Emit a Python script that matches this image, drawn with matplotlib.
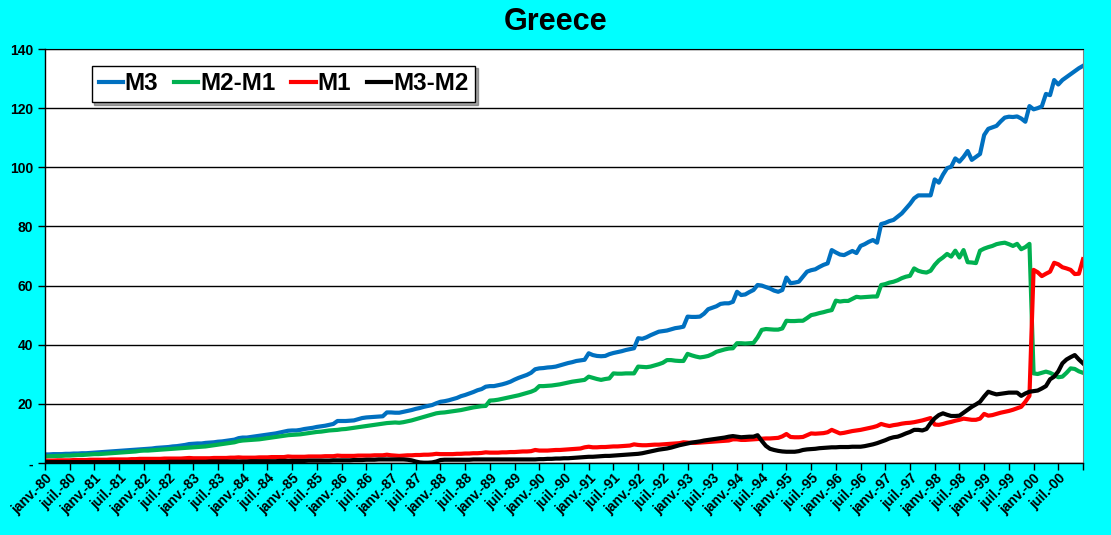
import matplotlib
matplotlib.use("Agg")
import matplotlib.pyplot as plt
import numpy as np

plt.rcParams['font.family'] = ['Liberation Sans', 'DejaVu Sans']
plt.rcParams['font.weight'] = 'bold'

# mois : janv.-80 ... janv.-01
mois_noms = ["janv.", "juil."]
annees = list(range(1980, 2001))

m3 = [
    2.9, 2.9, 3.0, 3.0, 3.0, 3.1, 3.1, 3.2, 3.2, 3.3, 3.3, 3.4,
    3.5, 3.6, 3.7, 3.8, 3.9, 4.0, 4.1, 4.2, 4.3, 4.4, 4.5, 4.6,
    4.7, 4.8, 4.9, 5.1, 5.2, 5.3, 5.4, 5.6, 5.7, 5.9, 6.1, 6.4,
    6.5, 6.6, 6.6, 6.8, 6.9, 7.0, 7.2, 7.3, 7.5, 7.7, 7.9, 8.4,
    8.6, 8.6, 8.8, 9.0, 9.2, 9.4, 9.6, 9.8, 10.0, 10.3, 10.6, 10.9,
    11.0, 11.0, 11.2, 11.5, 11.7, 11.9, 12.2, 12.4, 12.6, 12.9, 13.2, 14.2,
    14.2, 14.2, 14.3, 14.4, 14.8, 15.2, 15.4, 15.5, 15.6, 15.7, 15.8, 17.1,
    17.1, 17.0, 17.0, 17.3, 17.6, 17.9, 18.3, 18.6, 19.0, 19.3, 19.6, 20.2,
    20.7, 20.9, 21.2, 21.6, 22.0, 22.6, 23.0, 23.5, 24.0, 24.6, 25.0, 25.8,
    26.0, 26.0, 26.3, 26.6, 27.0, 27.5, 28.2, 28.8, 29.3, 29.8, 30.5, 31.7,
    32.0, 32.1, 32.3, 32.4, 32.6, 33.0, 33.4, 33.8, 34.1, 34.5, 34.7, 34.9,
    37.1, 36.5, 36.2, 36.1, 36.2, 36.8, 37.2, 37.5, 37.8, 38.2, 38.5, 38.8,
    42.2, 42.0, 42.5, 43.2, 43.8, 44.4, 44.6, 44.8, 45.2, 45.6, 45.8, 46.1,
    49.5, 49.4, 49.4, 49.5, 50.5, 52.0, 52.5, 53.0, 53.8, 54.0, 54.0, 54.5,
    57.9, 56.8, 57.0, 57.8, 58.5, 60.2, 60.0, 59.5, 59.0, 58.3, 57.9, 58.5,
    62.7, 60.8, 61.0, 61.3, 63.0, 64.7, 65.2, 65.5, 66.3, 67.0, 67.5, 72.0,
    71.2, 70.5, 70.3, 71.0, 71.7, 71.0, 73.4, 74.0, 74.8, 75.4, 74.5, 80.8,
    81.2, 81.8, 82.2, 83.3, 84.4, 86.0, 87.6, 89.5, 90.5, 90.5, 90.5, 90.5,
    95.9, 94.8, 97.5, 99.7, 100.2, 103.0, 101.9, 103.5, 105.5, 102.5, 103.5, 104.5,
    110.9, 113.0, 113.5, 114.0, 115.5, 116.8, 117.1, 117.0, 117.2, 116.5, 115.4, 120.7,
    119.6, 120.0, 120.6, 124.8, 124.4, 129.5, 128.0, 129.5, 130.5, 131.5, 132.5, 133.5,
    134.3,
]

m2_m1 = [
    2.2, 2.3, 2.3, 2.4, 2.4, 2.5, 2.5, 2.6, 2.7, 2.7, 2.8, 2.9,
    3.0, 3.0, 3.1, 3.2, 3.3, 3.4, 3.5, 3.6, 3.7, 3.8, 3.9, 4.1,
    4.2, 4.2, 4.3, 4.4, 4.5, 4.6, 4.7, 4.8, 4.9, 5.0, 5.1, 5.2,
    5.3, 5.4, 5.5, 5.6, 5.8, 6.0, 6.2, 6.4, 6.6, 6.8, 7.0, 7.4,
    7.6, 7.7, 7.8, 7.9, 8.0, 8.2, 8.4, 8.6, 8.8, 9.0, 9.2, 9.4,
    9.5, 9.6, 9.7, 9.9, 10.1, 10.3, 10.5, 10.6, 10.8, 11.0, 11.1, 11.2,
    11.4, 11.5, 11.7, 11.9, 12.1, 12.3, 12.5, 12.7, 12.9, 13.1, 13.3, 13.5,
    13.6, 13.7, 13.6, 13.8, 14.1, 14.4, 14.8, 15.2, 15.6, 16.0, 16.4, 16.8,
    17.0, 17.1, 17.3, 17.5, 17.7, 17.9, 18.2, 18.5, 18.8, 19.0, 19.2, 19.3,
    21.1, 21.2, 21.4, 21.7, 22.0, 22.3, 22.6, 22.9, 23.3, 23.7, 24.1, 24.7,
    26.0, 26.0, 26.1, 26.2, 26.4, 26.6, 26.9, 27.2, 27.5, 27.7, 27.9, 28.1,
    29.2, 28.8, 28.4, 28.1, 28.4, 28.6, 30.3, 30.2, 30.2, 30.3, 30.3, 30.3,
    32.6, 32.5, 32.4, 32.6, 33.0, 33.4, 33.9, 34.8, 34.8, 34.6, 34.5, 34.5,
    36.9, 36.4, 36.0, 35.7, 35.9, 36.2, 36.8, 37.6, 38.0, 38.4, 38.7, 38.8,
    40.5, 40.5, 40.4, 40.5, 40.6, 42.5, 45.0, 45.3, 45.2, 45.1, 45.1, 45.5,
    48.1, 48.0, 48.0, 48.1, 48.1, 49.0, 50.0, 50.3, 50.7, 51.0, 51.4, 51.7,
    54.9, 54.6, 54.8, 54.8, 55.5, 56.2, 56.0, 56.1, 56.2, 56.3, 56.3, 60.2,
    60.5, 61.0, 61.3, 61.8, 62.5, 63.0, 63.3, 65.8, 65.0, 64.6, 64.4, 65.0,
    67.0, 68.5, 69.5, 70.7, 69.8, 71.8, 69.5, 72.0, 67.9, 67.8, 67.6, 71.8,
    72.5, 73.0, 73.4, 74.0, 74.3, 74.5, 74.0, 73.4, 74.1, 72.3, 73.0, 74.1,
    30.3, 30.1, 30.5, 30.9, 30.5, 29.8, 29.0, 29.2, 30.5, 32.0, 31.8, 31.0,
    30.5,
]

m1 = [
    0.8, 0.8, 0.8, 0.9, 0.9, 0.9, 0.9, 1.0, 1.0, 1.0, 1.0, 1.1,
    1.1, 1.1, 1.1, 1.1, 1.2, 1.2, 1.2, 1.2, 1.2, 1.3, 1.3, 1.4,
    1.4, 1.4, 1.4, 1.4, 1.4, 1.5, 1.5, 1.5, 1.5, 1.5, 1.6, 1.7,
    1.6, 1.6, 1.6, 1.6, 1.6, 1.7, 1.7, 1.7, 1.7, 1.8, 1.8, 1.9,
    1.8, 1.8, 1.8, 1.8, 1.9, 1.9, 1.9, 2.0, 2.0, 2.0, 2.0, 2.2,
    2.1, 2.1, 2.1, 2.1, 2.2, 2.2, 2.2, 2.2, 2.3, 2.3, 2.3, 2.5,
    2.4, 2.4, 2.4, 2.4, 2.5, 2.5, 2.5, 2.5, 2.6, 2.6, 2.6, 2.8,
    2.6, 2.5, 2.4, 2.5, 2.6, 2.6, 2.7, 2.7, 2.8, 2.8, 2.9, 3.1,
    3.0, 3.0, 3.0, 3.0, 3.1, 3.1, 3.2, 3.2, 3.3, 3.3, 3.4, 3.6,
    3.5, 3.5, 3.5, 3.6, 3.6, 3.7, 3.7, 3.8, 3.9, 3.9, 4.0, 4.4,
    4.2, 4.2, 4.2, 4.3, 4.4, 4.4, 4.5, 4.6, 4.7, 4.8, 4.9, 5.3,
    5.5, 5.3, 5.3, 5.4, 5.4, 5.5, 5.6, 5.6, 5.7, 5.8, 5.9, 6.3,
    6.1, 6.0, 6.0, 6.1, 6.2, 6.2, 6.3, 6.4, 6.5, 6.6, 6.7, 7.0,
    6.9, 6.8, 6.8, 6.9, 7.0, 7.1, 7.2, 7.3, 7.4, 7.5, 7.6, 8.0,
    8.0, 7.8, 7.8, 7.9, 8.0, 8.1, 8.2, 8.3, 8.3, 8.4, 8.5, 9.0,
    9.8, 8.8, 8.7, 8.7, 8.8, 9.4, 10.0, 9.9, 10.0, 10.1, 10.4, 11.2,
    10.6, 10.0, 10.2, 10.5, 10.8, 11.0, 11.2, 11.5, 11.8, 12.1, 12.5, 13.2,
    12.8, 12.5, 12.8, 13.0, 13.3, 13.5, 13.6, 13.8, 14.1, 14.4, 14.8, 15.2,
    13.0, 12.9, 13.2, 13.6, 13.9, 14.3, 14.6, 15.0, 14.8, 14.6, 14.6, 15.0,
    16.6, 16.0, 16.2, 16.6, 17.0, 17.3, 17.6, 18.0, 18.5, 19.0, 20.7, 22.7,
    65.3, 64.5, 63.2, 64.0, 64.7, 67.7, 67.2, 66.2, 65.8, 65.3, 63.9, 64.0,
    68.9,
]

m3_m2 = [
    0.3, 0.3, 0.3, 0.3, 0.3, 0.3, 0.3, 0.3, 0.3, 0.3, 0.3, 0.3,
    0.3, 0.3, 0.3, 0.3, 0.3, 0.3, 0.3, 0.3, 0.3, 0.3, 0.3, 0.3,
    0.3, 0.3, 0.3, 0.3, 0.3, 0.3, 0.4, 0.4, 0.4, 0.4, 0.4, 0.4,
    0.4, 0.4, 0.4, 0.4, 0.5, 0.5, 0.5, 0.5, 0.5, 0.5, 0.5, 0.5,
    0.5, 0.5, 0.6, 0.6, 0.6, 0.6, 0.6, 0.6, 0.6, 0.7, 0.7, 0.7,
    0.7, 0.7, 0.7, 0.7, 0.8, 0.8, 0.8, 0.8, 0.8, 0.8, 0.9, 0.9,
    0.9, 0.9, 0.9, 1.0, 1.0, 1.0, 1.1, 1.1, 1.1, 1.2, 1.2, 1.2,
    1.2, 1.2, 1.2, 1.2, 1.1, 0.9, 0.5, 0.2, 0.1, 0.1, 0.2, 0.5,
    1.0, 1.1, 1.1, 1.1, 1.1, 1.1, 1.1, 1.1, 1.2, 1.2, 1.2, 1.2,
    1.2, 1.2, 1.2, 1.2, 1.2, 1.2, 1.2, 1.2, 1.2, 1.2, 1.2, 1.2,
    1.3, 1.3, 1.4, 1.4, 1.5, 1.5, 1.6, 1.6, 1.7, 1.8, 1.9, 2.0,
    2.1, 2.1, 2.2, 2.3, 2.4, 2.4, 2.5, 2.6, 2.7, 2.8, 2.9, 3.0,
    3.1, 3.3, 3.6, 3.9, 4.2, 4.5, 4.7, 4.9, 5.2, 5.6, 6.0, 6.3,
    6.6, 6.9, 7.1, 7.3, 7.6, 7.8, 8.0, 8.2, 8.4, 8.6, 8.9, 9.1,
    8.9, 8.7, 8.8, 8.9, 8.9, 9.4, 7.5, 5.8, 4.8, 4.4, 4.1, 3.9,
    3.8, 3.8, 3.8, 4.0, 4.4, 4.6, 4.7, 4.8, 5.0, 5.1, 5.2, 5.3,
    5.3, 5.4, 5.4, 5.4, 5.5, 5.5, 5.5, 5.7, 6.0, 6.3, 6.7, 7.2,
    7.7, 8.3, 8.7, 8.9, 9.4, 10.0, 10.5, 11.2, 11.2, 11.0, 11.5, 13.5,
    15.1, 16.2, 16.8, 16.3, 15.9, 15.9, 16.0, 17.0, 18.0, 19.0, 19.8, 20.7,
    22.5, 24.1, 23.6, 23.2, 23.4, 23.6, 23.8, 23.8, 23.8, 22.7, 23.5, 24.1,
    24.3, 24.5, 25.2, 26.0, 28.3, 29.2, 31.0, 33.7, 35.0, 35.8, 36.5, 35.0,
    33.7,
]

series = [
    ("M3", m3, "#0070C0"),
    ("M2-M1", m2_m1, "#00B050"),
    ("M1", m1, "#FF0000"),
    ("M3-M2", m3_m2, "#000000"),
]

fig = plt.figure(figsize=(11.11, 5.35), dpi=100, facecolor="#00FFFF")
ax = fig.add_axes([0.0405, 0.1346, 0.9343, 0.7738])
ax.set_facecolor("white")

x = np.arange(len(m3))
for nom, vals, col in series:
    ax.plot(x, vals, color=col, lw=3, label=nom, solid_joinstyle="round")

ax.set_xlim(0, len(m3) - 1)
ax.set_ylim(0, 140)

# grille horizontale
ax.set_yticks(range(0, 141, 20))
ax.set_yticklabels(["-"] + [str(v) for v in range(20, 141, 20)])
ax.yaxis.grid(True, color="black", lw=1)
ax.set_axisbelow(True)

# étiquettes semestrielles
pos = list(range(0, len(m3), 6))
labs = []
for a in annees:
    for n in mois_noms:
        labs.append(f"{n}-{a % 100:02d}")
labs.append("")
ax.set_xticks(pos)
ax.set_xticklabels(labs[:len(pos)], rotation=45, ha="right", rotation_mode="anchor")

ax.tick_params(axis="x", length=5, width=1, labelsize=10, pad=1)
ax.tick_params(axis="y", length=5, width=1, labelsize=10)
for s in ["left", "bottom"]:
    ax.spines[s].set_color("black")
    ax.spines[s].set_linewidth(1)
ax.spines["top"].set_color("black")
ax.spines["right"].set_color("#808080")

fig.text(0.5, 0.958, "Greece", fontsize=22, fontweight="bold",
         ha="center", va="center")

leg = ax.legend(loc="upper left", bbox_to_anchor=(0.045, 0.96), ncol=4,
                prop={"family": ["Liberation Sans Narrow", "Liberation Sans"],
                      "weight": "bold", "size": 17.5},
                frameon=True, fancybox=False, shadow=True,
                handlelength=1.0, handletextpad=0.08, columnspacing=0.65,
                borderaxespad=0, borderpad=0.28)
leg.get_frame().set_edgecolor("black")
leg.get_frame().set_linewidth(1)

fig.savefig("out.png", dpi=100, facecolor=fig.get_facecolor())
